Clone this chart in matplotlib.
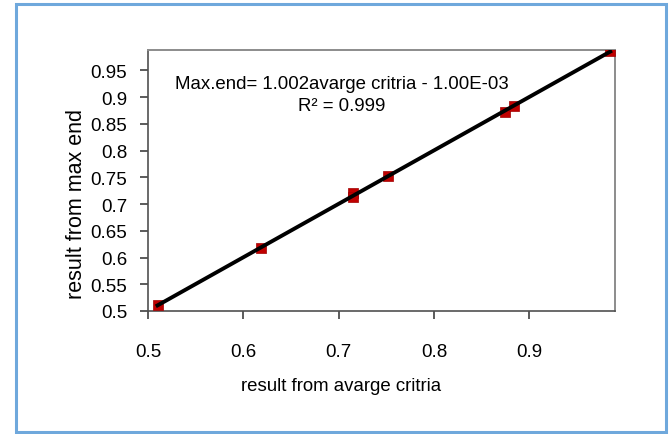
import numpy as np
import matplotlib
matplotlib.use('Agg')
import matplotlib.pyplot as plt
from matplotlib.patches import Rectangle

# values
avg_crit = [0.510, 0.619, 0.715, 0.715, 0.752, 0.875, 0.884, 0.985]
max_end = [0.511, 0.617, 0.721, 0.713, 0.752, 0.873, 0.884, 0.986]
x_ticks = [0.5, 0.6, 0.7, 0.8, 0.9]
y_ticks = [0.5, 0.55, 0.6, 0.65, 0.7, 0.75, 0.8, 0.85, 0.9, 0.95]
eq_text = 'Max.end= 1.002avarge critria - 1.00E-03\nR² = 0.999'

plt.rcParams['font.family'] = ['Liberation Sans', 'DejaVu Sans']

W, H = 670, 435
fig = plt.figure(figsize=(W / 100, H / 100), dpi=100)

# blue frame round the whole chart
fig.patches.append(Rectangle((15.5 / W, 1 - 433 / H), 650 / W, 428 / H,
                             transform=fig.transFigure, fill=False,
                             edgecolor='#6fa8dc', linewidth=2.2))

ax = fig.add_axes([148 / W, 1 - 312 / H, 467 / W, 261 / H])
ax.set_xlim(0.5, 0.99)
ax.set_ylim(0.5, 0.988)

ax.scatter(avg_crit, max_end, marker='s', s=45, color='#c00000',
           edgecolors='#a00000', linewidths=0.5, zorder=3)

# linear trendline through the points
k, b = np.polyfit(avg_crit, max_end, 1)
xs = np.array([min(avg_crit), max(avg_crit)])
ax.plot(xs, k * xs + b, color='black', linewidth=2.8, zorder=4)

ax.set_xticks(x_ticks)
ax.set_yticks(y_ticks)
ax.set_xticklabels([f'{v:g}' for v in x_ticks])
ax.set_yticklabels([f'{v:g}' for v in y_ticks])
ax.tick_params(axis='x', direction='out', length=6, width=1.2, pad=17,
               labelsize=13.5, colors='#404040', labelcolor='black')
ax.tick_params(axis='y', direction='out', length=6, width=1.2, pad=9,
               labelsize=13.5, colors='#404040', labelcolor='black')

for side in ['left', 'bottom']:
    ax.spines[side].set_color('#505050')
    ax.spines[side].set_linewidth(1.2)
for side in ['top', 'right']:
    ax.spines[side].set_color('#8c8c8c')
    ax.spines[side].set_linewidth(1.4)

ax.text(0.415, 0.83, eq_text, transform=ax.transAxes, ha='center', va='center',
        fontsize=13.4, linespacing=1.4)

fig.text(341 / W, 1 - 387 / H, 'result from avarge critria', ha='center',
         va='center', fontsize=13.4)
fig.text(77 / W, 1 - 204 / H, 'result from max end', ha='center',
         va='center', rotation=90, fontsize=15.5)

fig.savefig('out.png', dpi=100)
